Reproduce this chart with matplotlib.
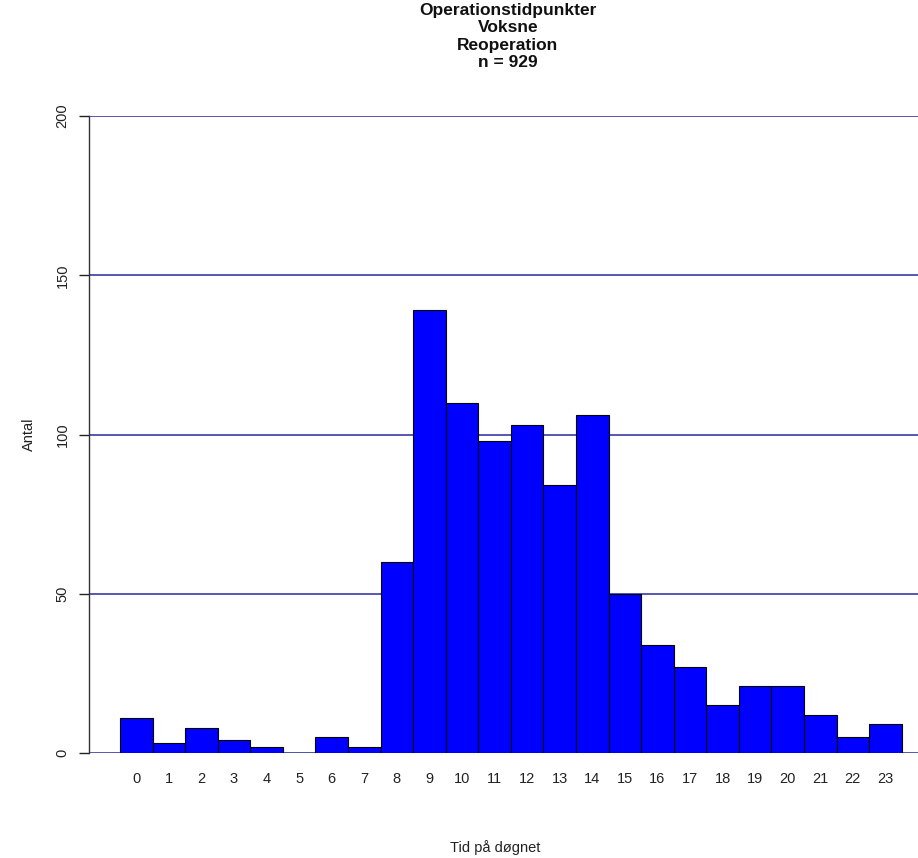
import numpy as np
import matplotlib.pyplot as plt

plt.rcParams['font.family'] = ['Liberation Sans', 'DejaVu Sans']

# counts per hour of the day
hours = list(range(24))
counts = [11, 3, 8, 4, 2, 0, 5, 2, 60, 139, 110, 98, 103, 84, 106, 50, 34, 27, 15, 21, 21, 12, 5, 9]
yticks = [0, 50, 100, 150, 200]
title_lines = ['Operationstidpunkter', 'Voksne', 'Reoperation', 'n = 929']

fig = plt.figure(figsize=(9.18, 8.58), dpi=100)
ax = fig.add_axes([89 / 918, 1 - 753 / 858, 1 - 89 / 918, (753 - 116) / 858])

for y in yticks:
    ax.axhline(y, color='#2a2a9c', lw=1.1, zorder=1)
ax.bar(hours, counts, width=1.0, color='#0000ff', edgecolor='black', linewidth=0.8, zorder=2)

ax.set_xlim(-1.45, 24.0)
ax.set_ylim(0, 200)
for s in ['top', 'right', 'bottom']:
    ax.spines[s].set_visible(False)
ax.spines['left'].set_color('#333333')
ax.spines['left'].set_linewidth(1.0)

ax.set_xticks(hours)
ax.set_xticklabels([str(h) for h in hours])
ax.tick_params(axis='x', length=0, pad=14, labelsize=10.5, colors='#222222')
ax.set_yticks(yticks)
ax.set_yticklabels([str(v) for v in yticks], rotation=90, va='center')
ax.tick_params(axis='y', length=7, width=1.0, pad=7, labelsize=10.5, colors='#222222')

ax.set_ylabel('Antal', fontsize=10.5, labelpad=14, color='#222222')
fig.text(495 / 918, 1 - 848 / 858, 'Tid på døgnet', ha='center', va='center', fontsize=10.5, color='#222222')
fig.text(508 / 918, 1 - 3 / 858, '\n'.join(title_lines), ha='center', va='top',
         fontsize=12.5, fontweight='bold', linespacing=1.2, color='#111111')

plt.savefig('out.png', dpi=100)
